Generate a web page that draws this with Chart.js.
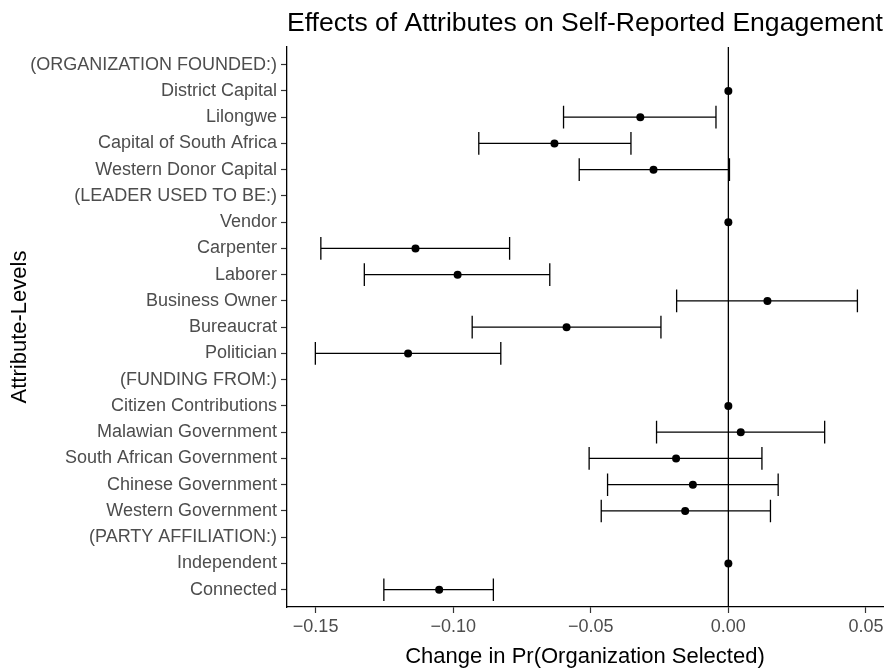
<!DOCTYPE html>
<html>
<head>
<meta charset="utf-8">
<script src="https://cdn.jsdelivr.net/npm/chart.js@4"></script>
<style>
  body { margin: 0; background: #fff; }
  canvas { display: block; }
</style>
</head>
<body>
<canvas id="effectsChart" width="891" height="668"></canvas>
<script>
// Attribute levels, top to bottom
const categories = [
    '(ORGANIZATION FOUNDED:)', 'District Capital', 'Lilongwe', 'Capital of South Africa', 'Western Donor Capital',
    '(LEADER USED TO BE:)', 'Vendor', 'Carpenter', 'Laborer', 'Business Owner', 'Bureaucrat', 'Politician',
    '(FUNDING FROM:)', 'Citizen Contributions', 'Malawian Government', 'South African Government',
    'Chinese Government', 'Western Government',
    '(PARTY AFFILIATION:)', 'Independent', 'Connected'
];
// Point estimates and 95% interval ends (null = header row / baseline level)
const estimates = [null, 0, -0.0320, -0.0632, -0.0272, null, 0, -0.1137, -0.0984, 0.0142, -0.0588, -0.1164,
    null, 0, 0.0045, -0.0190, -0.0129, -0.0157, null, 0, -0.1051];
const lower = [null, null, -0.0599, -0.0907, -0.0542, null, null, -0.1481, -0.1323, -0.0188, -0.0931, -0.1501,
    null, null, -0.0261, -0.0506, -0.0439, -0.0462, null, null, -0.1252];
const upper = [null, null, -0.0045, -0.0354, 0.0004, null, null, -0.0795, -0.0649, 0.0469, -0.0245, -0.0827,
    null, null, 0.0350, 0.0122, 0.0181, 0.0153, null, null, -0.0854];
// x axis ticks
const xTicks = [-0.15, -0.10, -0.05, 0.00, 0.05];
const xTickLabels = ['\u22120.15', '\u22120.10', '\u22120.05', '0.00', '0.05'];

const FONT = '"Liberation Sans", Arial, sans-serif';

// error bars + zero line
const errorBars = {
    id: 'errorBars',
    beforeDatasetsDraw(chart) {
        const ctx = chart.ctx;
        const x = chart.scales.x, y = chart.scales.y;
        const area = chart.chartArea;
        ctx.save();
        ctx.strokeStyle = '#000';
        ctx.lineWidth = 1.3;
        // vertical reference line at 0
        ctx.beginPath();
        ctx.moveTo(x.getPixelForValue(0), area.top);
        ctx.lineTo(x.getPixelForValue(0), area.bottom);
        ctx.stroke();
        for (let i = 0; i < categories.length; i++) {
            if (lower[i] === null || upper[i] === null) continue;
            const xl = x.getPixelForValue(lower[i]);
            const xu = x.getPixelForValue(upper[i]);
            const yc = y.getPixelForValue(i);
            const y0 = y.getPixelForValue(i - 0.43);
            const y1 = y.getPixelForValue(i + 0.43);
            ctx.beginPath();
            ctx.moveTo(xl, yc); ctx.lineTo(xu, yc);
            ctx.moveTo(xl, y0); ctx.lineTo(xl, y1);
            ctx.moveTo(xu, y0); ctx.lineTo(xu, y1);
            ctx.stroke();
        }
        ctx.restore();
    }
};

const points = estimates.map((v, i) => v === null ? null : { x: v, y: i }).filter(p => p !== null);

const ctx = document.getElementById('effectsChart').getContext('2d');
const effectsChart = new Chart(ctx, {
    type: 'scatter',
    data: {
        datasets: [{
            data: points,
            backgroundColor: '#000',
            borderColor: '#000',
            pointRadius: 4,
            borderWidth: 0
        }]
    },
    options: {
        responsive: false,
        animation: false,
        events: [],
        layout: { padding: { top: 0, right: 8, bottom: 0, left: 0 } },
        plugins: {
            legend: { display: false },
            tooltip: { enabled: false },
            title: {
                display: true,
                text: 'Effects of Attributes on Self-Reported Engagement',
                fullSize: false,
                color: '#000',
                font: { family: FONT, size: 26.7, weight: 'normal', lineHeight: 1.2 },
                padding: { top: 8, bottom: 7 }
            }
        },
        scales: {
            x: {
                type: 'linear',
                min: -0.1604,
                max: 0.0562,
                afterBuildTicks: axis => { axis.ticks = xTicks.map(v => ({ value: v })); },
                afterFit: axis => { axis.height = 61; },
                ticks: {
                    callback: (value, index) => xTickLabels[index],
                    color: '#4d4d4d',
                    font: { family: FONT, size: 18 },
                    padding: 3,
                    maxRotation: 0
                },
                grid: { drawOnChartArea: false, color: '#333', tickLength: 6, tickWidth: 1.2 },
                border: { display: true, color: '#000', width: 1.3 },
                title: {
                    display: true,
                    text: 'Change in Pr(Organization Selected)',
                    color: '#000',
                    font: { family: FONT, size: 22, lineHeight: 1 },
                    padding: 0
                }
            },
            y: {
                type: 'linear',
                reverse: true,
                min: -0.67,
                max: 20.66,
                afterBuildTicks: axis => { axis.ticks = categories.map((c, i) => ({ value: i })); },
                afterFit: axis => { axis.width = 287; },
                ticks: {
                    callback: value => categories[value],
                    autoSkip: false,
                    color: '#4d4d4d',
                    font: { family: FONT, size: 18 },
                    padding: 4
                },
                grid: { drawOnChartArea: false, color: '#333', tickLength: 6, tickWidth: 1.2 },
                border: { display: true, color: '#000', width: 1.3 },
                title: {
                    display: true,
                    text: 'Attribute-Levels',
                    color: '#000',
                    font: { family: FONT, size: 22, lineHeight: 1 },
                    padding: { top: 9, bottom: 0 }
                }
            }
        }
    },
    plugins: [errorBars]
});
</script>
</body>
</html>
